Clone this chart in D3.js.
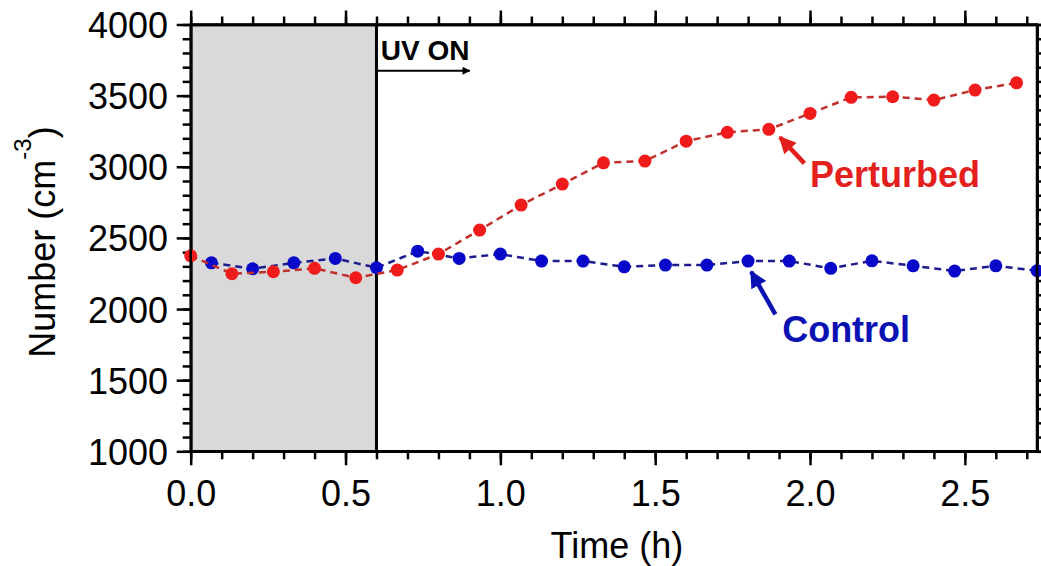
<!DOCTYPE html>
<meta charset="utf-8">
<style>
  body { margin: 0; background: #fff; }
  svg text { font-family: "Liberation Sans", Arial, sans-serif; }
  .axis path, .axis line { stroke: #000; stroke-width: 2.5; }
  .axis text { font-size: 36px; fill: #000; }
</style>
<body>
<script src="https://cdn.jsdelivr.net/npm/d3@7"></script>
<script>

// Data (time in hours, number concentration in cm^-3)
const perturbedTime = [0.000, 0.133, 0.267, 0.400, 0.533, 0.667, 0.800, 0.933, 1.067, 1.200,
                       1.333, 1.467, 1.600, 1.733, 1.867, 2.000, 2.133, 2.267, 2.400, 2.533, 2.667];
const perturbedValues = [2374, 2248, 2262, 2286, 2220, 2274, 2386, 2555, 2731, 2878,
                         3028, 3040, 3180, 3242, 3263, 3375, 3488, 3492, 3469, 3539, 3590];

const controlTime = [0.067, 0.200, 0.333, 0.467, 0.600, 0.733, 0.867, 1.000, 1.133, 1.267,
                     1.400, 1.533, 1.667, 1.800, 1.933, 2.067, 2.200, 2.333, 2.467, 2.600, 2.733];
const controlValues = [2325, 2283, 2325, 2356, 2290, 2407, 2356, 2386, 2337, 2337,
                       2297, 2309, 2309, 2337, 2337, 2286, 2339, 2304, 2267, 2304, 2269];

const xTicks = [0.0, 0.5, 1.0, 1.5, 2.0, 2.5];
const yTicks = [1000, 1500, 2000, 2500, 3000, 3500, 4000];
const uvOnTime = 0.6;

// Size of the picture and the plot box
const width = 1041, height = 566;
const box = {left: 190.7, right: 1037, top: 24.5, bottom: 451.3};

const x = d3.scaleLinear().domain([0, 2.733]).range([box.left, box.right]);
const y = d3.scaleLinear().domain([1000, 4000]).range([box.bottom, box.top]);

const svg = d3.select("body").append("svg")
    .attr("width", width)
    .attr("height", height);

// arrow heads for the annotations
const defs = svg.append("defs");
function addHead(id, color, w, h) {
    defs.append("marker")
        .attr("id", id)
        .attr("viewBox", "0 0 10 10")
        .attr("refX", 9).attr("refY", 5)
        .attr("markerUnits", "userSpaceOnUse")
        .attr("markerWidth", w).attr("markerHeight", h)
        .attr("orient", "auto")
      .append("path")
        .attr("d", "M0,0 L10,5 L0,10 z")
        .attr("fill", color);
}
addHead("headBlack", "#000", 20, 8);
addHead("headRed", "#e3201c", 20, 17);
addHead("headBlue", "#0a12b4", 20, 17);

// Grey band before UV is switched on
svg.append("rect")
    .attr("x", x(0))
    .attr("y", y(4000))
    .attr("width", x(uvOnTime) - x(0))
    .attr("height", y(1000) - y(4000))
    .attr("fill", "#d9d9d9");

// Vertical line at UV ON
svg.append("line")
    .attr("x1", x(uvOnTime)).attr("x2", x(uvOnTime))
    .attr("y1", y(4000)).attr("y2", y(1000))
    .attr("stroke", "#000")
    .attr("stroke-width", 3);

// Axes: major ticks with labels, minor ticks without
const minorX = d3.range(0, 2.74, 0.1);
const minorY = d3.range(1000, 4001, 100);

function drawAxis(axisMaker, scale, transform, major, minor, labels) {
    const g = svg.append("g").attr("class", "axis").attr("transform", transform);
    g.call(axisMaker(scale).tickValues(minor).tickSize(8).tickSizeOuter(0).tickFormat(""));
    const g2 = svg.append("g").attr("class", "axis").attr("transform", transform);
    const ax = axisMaker(scale).tickValues(major).tickSize(14).tickSizeOuter(0).tickPadding(8);
    if (labels) ax.tickFormat(labels); else ax.tickFormat("");
    g2.call(ax);
    return g2;
}

const bottomAxis = drawAxis(d3.axisBottom, x, "translate(0," + box.bottom + ")", xTicks, minorX, d3.format(".1f"));
bottomAxis.selectAll("text").attr("dy", null).attr("y", 54.7);
drawAxis(d3.axisTop, x, "translate(0," + box.top + ")", xTicks, minorX, null);
const leftAxis = drawAxis(d3.axisLeft, y, "translate(" + box.left + ",0)", yTicks, minorY, d3.format("d"));
leftAxis.selectAll("text").attr("x", -22.7).attr("dy", "0.36em");
drawAxis(d3.axisRight, y, "translate(" + box.right + ",0)", yTicks, minorY, null);

// Series: dashed connecting lines and filled dots
const line = d3.line()
    .x(function(d) { return x(d[0]); })
    .y(function(d) { return y(d[1]); });

const control = d3.zip(controlTime, controlValues);
const perturbed = d3.zip(perturbedTime, perturbedValues);

svg.append("path")
    .datum(control)
    .attr("d", line)
    .attr("fill", "none")
    .attr("stroke", "#1c1c8c")
    .attr("stroke-width", 2.5)
    .attr("stroke-dasharray", "7,5");

svg.selectAll(".ctrl").data(control).enter()
    .append("circle")
    .attr("class", "ctrl")
    .attr("cx", function(d) { return x(d[0]); })
    .attr("cy", function(d) { return y(d[1]); })
    .attr("r", 6.5)
    .attr("fill", "#0808c8");

svg.append("path")
    .datum(perturbed)
    .attr("d", line)
    .attr("fill", "none")
    .attr("stroke", "#c0302c")
    .attr("stroke-width", 2.5)
    .attr("stroke-dasharray", "7,5");

svg.selectAll(".pert").data(perturbed).enter()
    .append("circle")
    .attr("class", "pert")
    .attr("cx", function(d) { return x(d[0]); })
    .attr("cy", function(d) { return y(d[1]); })
    .attr("r", 6.5)
    .attr("fill", "#f01c1c");

// Frame on top of the data
svg.append("rect")
    .attr("x", box.left).attr("y", box.top)
    .attr("width", box.right - box.left)
    .attr("height", box.bottom - box.top)
    .attr("fill", "none")
    .attr("stroke", "#000")
    .attr("stroke-width", 2.5);

// UV ON annotation
svg.append("text")
    .attr("x", x(0.614))
    .attr("y", y(3750))
    .style("font-size", "28px")
    .style("font-weight", "bold")
    .text("UV ON");
svg.append("line")
    .attr("x1", x(uvOnTime)).attr("y1", y(3675))
    .attr("x2", x(0.901)).attr("y2", y(3675))
    .attr("stroke", "#000")
    .attr("stroke-width", 2.2)
    .attr("marker-end", "url(#headBlack)");

// Series labels with arrows
svg.append("line")
    .attr("x1", x(1.982)).attr("y1", y(3024))
    .attr("x2", x(1.903)).attr("y2", y(3207))
    .attr("stroke", "#e3201c")
    .attr("stroke-width", 4.5)
    .attr("marker-end", "url(#headRed)");
svg.append("text")
    .attr("x", x(2.0))
    .attr("y", y(2855))
    .attr("fill", "#e3201c")
    .style("font-size", "36px")
    .style("font-weight", "bold")
    .text("Perturbed");

svg.append("line")
    .attr("x1", x(1.888)).attr("y1", y(1963))
    .attr("x2", x(1.810)).attr("y2", y(2262))
    .attr("stroke", "#0a12b4")
    .attr("stroke-width", 4.5)
    .attr("marker-end", "url(#headBlue)");
svg.append("text")
    .attr("x", x(1.91))
    .attr("y", y(1770))
    .attr("fill", "#0a12b4")
    .style("font-size", "36px")
    .style("font-weight", "bold")
    .text("Control");

// Axis titles
svg.append("text")
    .attr("x", (box.left + box.right) / 2 + 3)
    .attr("y", 558)
    .attr("text-anchor", "middle")
    .style("font-size", "36px")
    .text("Time (h)");

const yTitle = svg.append("text")
    .attr("transform", "translate(55," + 242 + ") rotate(-90)")
    .attr("text-anchor", "middle")
    .style("font-size", "36px");
yTitle.append("tspan").text("Number (cm");
yTitle.append("tspan").attr("dy", -24).style("font-size", "24px").text("-3");
yTitle.append("tspan").attr("dy", 24).text(")");

</script>
</body>
